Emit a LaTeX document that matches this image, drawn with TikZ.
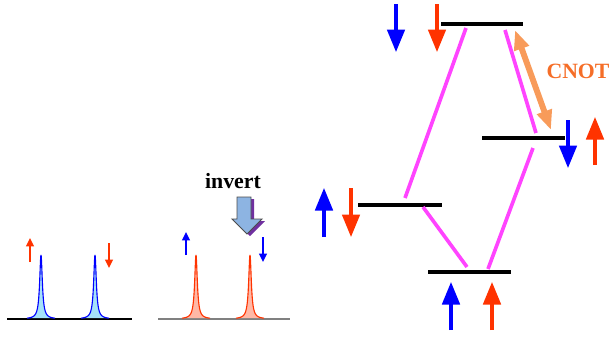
\documentclass[tikz,border=0pt]{standalone}
\usepackage{fontspec}
\setmainfont{Liberation Serif}
\usetikzlibrary{arrows.meta}
\definecolor{spinblue}{RGB}{0,0,255}
\definecolor{spinred}{RGB}{255,51,0}
\definecolor{transmag}{RGB}{255,68,255}
\definecolor{cnotorange}{RGB}{248,155,90}
\definecolor{cnottext}{RGB}{245,110,40}
\definecolor{invertblue}{RGB}{141,180,226}
\definecolor{invertshadow}{RGB}{112,48,160}

\begin{document}
\begin{tikzpicture}[x=0.025cm, y=-0.025cm,
  level/.style={line width=2.2pt, black},
  trans/.style={line width=2.6pt, transmag},
  spin/.style={line width=2.2pt, -{Triangle[width=12.5pt,length=16pt]}},
  smallspin/.style={line width=2pt, -{Triangle[width=5.5pt,length=6pt]}},
  peak/.style={line width=0.8pt, domain=#1-14:#1+14, samples=120},
  label/.style={font=\fontsize{15.5}{18}\bfseries\selectfont}
]
\useasboundingbox (0,0) rectangle (610,338);

% spectra before / after
\draw[line width=1pt, black] (7,319) -- (132,319);
\foreach \px in {41,95}
  \path[peak=\px, fill=cyan!35, draw=spinblue] plot (\x, {319-64*2.56/((\x-\px)^2+2.56)});
\draw[smallspin, spinred] (30,262) -- (30,238);
\draw[smallspin, spinred] (109,243) -- (109,268);

\draw[line width=1pt, gray] (158,319) -- (290,319);
\foreach \px in {196,250}
  \path[peak=\px, fill=spinred!35, draw=spinred] plot (\x, {319-64*2.56/((\x-\px)^2+2.56)});
\draw[smallspin, spinblue] (186,255) -- (186,232);
\draw[smallspin, spinblue] (263,237) -- (263,262);

% invert arrow
\node[label] (invert) at (233,181) {invert};
\fill[invertshadow, shift={(3,2)}] (237,197) -- (251,197) -- (251,219) -- (262,219)
  -- (247,234) -- (232,219) -- (237,219) -- cycle;
\filldraw[fill=invertblue, draw=black!70, line width=0.6pt] (237,197) -- (251,197) -- (251,219)
  -- (262,219) -- (247,234) -- (232,219) -- (237,219) -- cycle;

% energy levels
\coordinate (topA) at (441,24);   \coordinate (topB) at (523,24);
\coordinate (midA) at (482,138);  \coordinate (midB) at (565,138);
\coordinate (lowA) at (358,205);  \coordinate (lowB) at (442,205);
\coordinate (gndA) at (428,272);  \coordinate (gndB) at (511,272);
\foreach \lv in {top,mid,low,gnd}
  \draw[level] (\lv A) -- (\lv B);

% transitions
\coordinate (t1) at (466,28);  \coordinate (t2) at (405,198);
\coordinate (t3) at (505,30);  \coordinate (t4) at (536,133);
\coordinate (t5) at (533,148); \coordinate (t6) at (488,269);
\coordinate (t7) at (423,207); \coordinate (t8) at (467,267);
\draw[trans] (t1) -- (t2);
\draw[trans] (t3) -- (t4);
\draw[trans] (t5) -- (t6);
\draw[trans] (t7) -- (t8);

% CNOT
\coordinate (c1) at (515,30);
\coordinate (c2) at (551,130);
\draw[cnotorange, line width=4.2pt, {Triangle[width=10.5pt,length=14pt]}-{Triangle[width=10.5pt,length=14pt]}] (c1) -- (c2);
\node[label, text=cnottext] (cnot) at (578,71) {CNOT};

% spins
\draw[spin, spinblue] (396,4) -- (396,52);
\draw[spin, spinred] (437,4) -- (437,52);
\draw[spin, spinblue] (568,120) -- (568,168);
\draw[spin, spinred] (595,165) -- (595,117);
\draw[spin, spinblue] (324,237) -- (324,188);
\draw[spin, spinred] (351,188) -- (351,237);
\draw[spin, spinblue] (451,330) -- (451,282);
\draw[spin, spinred] (492,330) -- (492,282);
\end{tikzpicture}
\end{document}
